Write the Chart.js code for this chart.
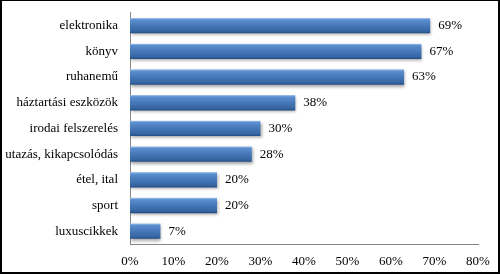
<!DOCTYPE html>
<html>
<head>
<meta charset="utf-8">
<script src="https://cdn.jsdelivr.net/npm/chart.js@4.4.0/dist/chart.umd.min.js"></script>
<style>
    html, body { margin: 0; padding: 0; background: #fff; }
    #wrap {
        position: relative;
        width: 500px;
        height: 274px;
        box-sizing: border-box;
        border: 2px solid #000;
        border-top-width: 1px;
    }
</style>
</head>
<body>
<div id="wrap"><canvas id="shopChart"></canvas></div>
<script>
const categories = [
    "elektronika",
    "könyv",
    "ruhanemű",
    "háztartási eszközök",
    "irodai felszerelés",
    "utazás, kikapcsolódás",
    "étel, ital",
    "sport",
    "luxuscikkek"
];
const shares = [69, 67, 63, 38, 30, 28, 20, 20, 7];
const xTicks = [0, 10, 20, 30, 40, 50, 60, 70, 80];

const serif = "'Liberation Serif', 'Times New Roman', serif";

// bevelled bar fill, light on top, dark at the bottom
function barFill(context) {
    const chart = context.chart;
    if (!chart.chartArea || context.type !== 'data') return '#4a7ebb';
    const y = chart.scales.y;
    const center = y.getPixelForValue(context.dataIndex);
    const half = (y.height / categories.length) * 0.6 / 2;
    const g = chart.ctx.createLinearGradient(0, center - half, 0, center + half);
    g.addColorStop(0, '#a9c6ec');
    g.addColorStop(0.12, '#5b8fd0');
    g.addColorStop(0.5, '#4678b8');
    g.addColorStop(0.85, '#3766a2');
    g.addColorStop(1, '#224d86');
    return g;
}

const shadowPlugin = {
    id: 'barShadow',
    beforeDatasetDraw(chart) {
        const ctx = chart.ctx;
        ctx.save();
        ctx.shadowColor = 'rgba(0, 0, 0, 0.35)';
        ctx.shadowBlur = 3;
        ctx.shadowOffsetX = 1;
        ctx.shadowOffsetY = 2;
    },
    afterDatasetDraw(chart) {
        chart.ctx.restore();
    }
};

const valueLabels = {
    id: 'valueLabels',
    afterDatasetsDraw(chart) {
        const ctx = chart.ctx;
        const meta = chart.getDatasetMeta(0);
        ctx.save();
        ctx.font = "13px " + serif;
        ctx.fillStyle = '#000';
        ctx.textAlign = 'left';
        ctx.textBaseline = 'middle';
        meta.data.forEach((bar, i) => {
            ctx.fillText(shares[i] + '%', bar.x + 8, bar.y);
        });
        ctx.restore();
    }
};

new Chart("shopChart", {
    type: "bar",
    data: {
        labels: categories,
        datasets: [{
            data: shares,
            backgroundColor: barFill,
            borderWidth: 0,
            categoryPercentage: 1,
            barPercentage: 0.6
        }]
    },
    options: {
        indexAxis: 'y',
        responsive: true,
        maintainAspectRatio: false,
        animation: false,
        layout: { padding: { top: 4, right: 20, left: 0, bottom: 0 } },
        scales: {
            x: {
                min: 0,
                max: 80,
                afterBuildTicks: (scale) => { scale.ticks = xTicks.map(v => ({ value: v })); },
                grid: { display: false },
                border: { display: true, color: '#868686', width: 1 },
                ticks: {
                    color: '#000',
                    padding: 2,
                    font: { family: serif, size: 13 },
                    callback: (v) => v + '%'
                },
                afterFit: (scale) => { scale.height = 28; }
            },
            y: {
                grid: { display: false },
                border: { display: true, color: '#868686', width: 1 },
                ticks: {
                    color: '#000',
                    padding: 4,
                    font: { family: serif, size: 13 }
                },
                afterFit: (scale) => { scale.width = 128; }
            }
        },
        plugins: {
            legend: { display: false },
            tooltip: { enabled: false }
        }
    },
    plugins: [shadowPlugin, valueLabels]
});
</script>
</body>
</html>
